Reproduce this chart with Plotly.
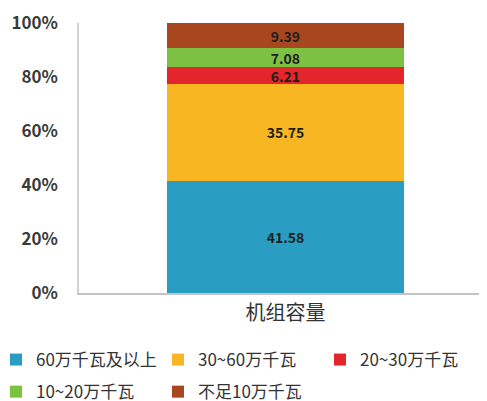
import plotly.graph_objects as go

categories = ["机组容量"]
series_names = ["60万千瓦及以上", "30~60万千瓦", "20~30万千瓦", "10~20万千瓦", "不足10万千瓦"]
series_values = [41.58, 35.75, 6.21, 7.08, 9.39]
colors = ["#2A9EC2", "#F8B722", "#E3262C", "#7DC143", "#A8471F"]
tick_vals = [0, 20, 40, 60, 80, 100]
tick_text = ["0%", "20%", "40%", "60%", "80%", "100%"]
legend_ids = ["legend", "legend2", "legend3", "legend", "legend2"]

FONT = "Noto Sans CJK SC"
# page body has an 8px default margin, so the figure is drawn 8px in
W, H = 479, 393
ML, MT, MB = 71, 15, 108
PW = W - ML

fig = go.Figure()
for i, (name, val, col, lg) in enumerate(zip(series_names, series_values, colors, legend_ids)):
    fig.add_trace(go.Bar(
        x=categories, y=[val], name=name,
        marker=dict(color=col, line=dict(width=0)),
        text=[f"{val:.2f}"], textposition="inside", insidetextanchor="middle",
        textangle=0,
        textfont=dict(color="#1E1E1E", size=14, family=FONT, weight="bold"),
        width=0.58, legend=lg, legendgroup=f"g{i}",
    ))

legend_common = dict(
    orientation="v", yref="container",
    xanchor="left", yanchor="top", y=1 - 334 / H,
    font=dict(size=17, family=FONT, color="#333333"),
    itemwidth=30, traceorder="grouped", tracegroupgap=7,
    bgcolor="rgba(0,0,0,0)", borderwidth=0,
)

fig.update_layout(
    barmode="stack",
    width=W, height=H,
    margin=dict(l=ML, r=0, t=MT, b=MB, autoexpand=False),
    paper_bgcolor="white", plot_bgcolor="white",
    font=dict(family=FONT, color="#333333", size=13),
    showlegend=True,
    legend=dict(legend_common, xref="paper", x=(-12 - ML) / PW),
    legend2=dict(legend_common, xref="container", x=150 / W),
    legend3=dict(legend_common, xref="container", x=312 / W),
    uniformtext=dict(mode="show", minsize=14),
)
fig.update_xaxes(
    showline=True, linecolor="#C4C4C4", linewidth=2,
    showgrid=False, ticks="", tickfont=dict(size=20, color="#333333"),
    range=[-0.506, 0.494], automargin=False, ticklabelstandoff=1,
)
fig.update_yaxes(
    range=[0, 100], tickvals=tick_vals, ticktext=tick_text,
    showline=True, linecolor="#D0D0D0", linewidth=1.5,
    showgrid=False, zeroline=False, ticks="",
    tickfont=dict(size=17, color="#3A3A3A", weight="bold"),
    ticklabelstandoff=16, automargin=False,
)

fig.write_html("out.html")
